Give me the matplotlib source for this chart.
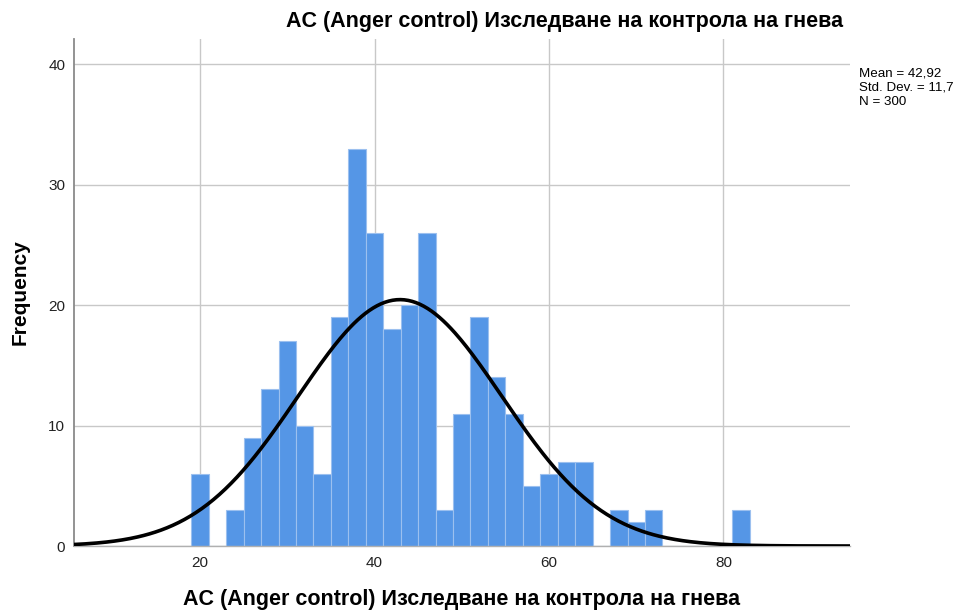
import numpy as np
import matplotlib.pyplot as plt

# histogram bin centres (width 2) and counts
bin_centers = [20, 22, 24, 26, 28, 30, 32, 34, 36, 38, 40, 42, 44, 46, 48, 50,
               52, 54, 56, 58, 60, 62, 64, 66, 68, 70, 72, 74, 76, 78, 80, 82]
counts = [6, 0, 3, 9, 13, 17, 10, 6, 19, 33, 26, 18, 20, 26, 3, 11,
          19, 14, 11, 5, 6, 7, 7, 0, 3, 2, 3, 0, 0, 0, 0, 3]
bin_width = 2
mean = 42.92
std_dev = 11.7
n_total = 300

title = "AC (Anger control) Изследване на контрола на гнева"

plt.rcParams['font.family'] = ['Liberation Sans', 'DejaVu Sans']

fig = plt.figure(figsize=(9.64, 6.12), dpi=100)
ax = fig.add_axes([73.5 / 964, 1 - 546 / 612, (850 - 73.5) / 964, (546 - 39) / 612])

ax.bar(bin_centers, counts, width=bin_width, color='#5596e6',
       edgecolor='#9cc0ef', linewidth=0.8, zorder=2)

xs = np.linspace(5.5, 94.5, 400)
ys = n_total * bin_width / (std_dev * np.sqrt(2 * np.pi)) * np.exp(-0.5 * ((xs - mean) / std_dev) ** 2)
ax.plot(xs, ys, color='black', linewidth=2.6, zorder=3, solid_capstyle='butt')

ax.set_xlim(5.5, 94.5)
ax.set_ylim(0, 42.1)
ax.set_xticks([20, 40, 60, 80])
ax.set_yticks([0, 10, 20, 30, 40])
ax.grid(True, color='#c8c8c8', linewidth=1.0, zorder=0)
ax.set_axisbelow(True)

for side in ['top', 'right']:
    ax.spines[side].set_visible(False)
ax.spines['left'].set_color('#8a8a8a')
ax.spines['left'].set_linewidth(1.3)
ax.spines['bottom'].set_color('#b0b0b0')
ax.spines['bottom'].set_linewidth(1.0)
ax.tick_params(length=0, labelsize=11, colors='#222222', pad=7)
ax.tick_params(axis='y', pad=6)

# axis titles placed in figure pixels to match the SPSS layout
fig.text(462 / 964, 1 - 600 / 612, title, fontsize=15.5, fontweight='bold',
         ha='center', va='center')
fig.text(20 / 964, 1 - 292 / 612, 'Frequency', fontsize=15, fontweight='bold',
         ha='center', va='center', rotation=90)
fig.text(843 / 964, 1 - 22 / 612, title, fontsize=15.5, fontweight='bold',
         ha='right', va='center')

stats = "Mean = %s\nStd. Dev. = %s\nN = %d" % (
    f"{mean:.2f}".replace('.', ','), f"{std_dev:.1f}".replace('.', ','), n_total)
fig.text(859 / 964, 1 - 67 / 612, stats, fontsize=9.6, ha='left', va='top',
         linespacing=1.3)

fig.savefig('out.png', dpi=100)
